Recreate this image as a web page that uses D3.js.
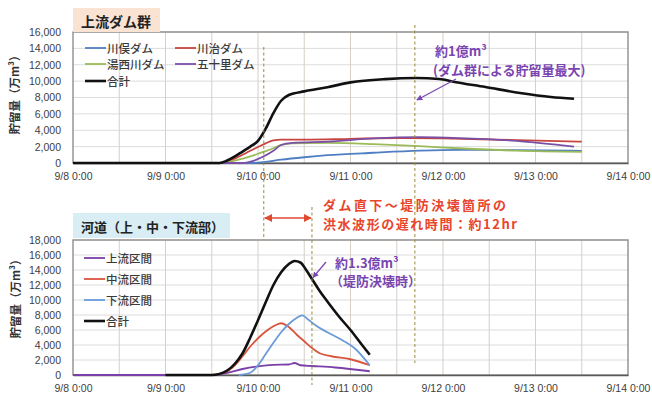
<!DOCTYPE html>
<html lang="ja">
<head>
<meta charset="utf-8">
<script src="https://cdn.jsdelivr.net/npm/d3@7"></script>
<style>
  html, body { margin: 0; padding: 0; background: #fff; }
  svg { display: block; font-family: "Noto Sans CJK JP", "Noto Sans", sans-serif; }
</style>
</head>
<body>
<svg id="chart" width="652" height="398"></svg>
<script>
// ---- time axis (hours since 9/8 0:00) ----
const dayTicks = [0, 24, 48, 72, 96, 120, 144];
const dayLabels = ["9/8 0:00", "9/9 0:00", "9/10 0:00", "9/11 0:00", "9/12 0:00", "9/13 0:00", "9/14 0:00"];

// ---- upstream dam group storage (万m³) ----
const damTicks = [0, 2000, 4000, 6000, 8000, 10000, 12000, 14000, 16000];

const kawamataT = [0, 46, 50, 54, 60, 66, 78, 90, 100, 115, 132];
const kawamataV = [0, 0, 150, 400, 700, 950, 1250, 1500, 1600, 1580, 1480];

const kawajiT = [0, 38, 41, 44, 46, 48, 50, 52, 54, 60, 72, 84, 96, 110, 132];
const kawajiV = [0, 0, 350, 1000, 1500, 1950, 2400, 2750, 2850, 2850, 2950, 3050, 3000, 2850, 2600];

const yunishigawaT = [0, 39, 42, 46, 49, 52, 54, 57, 66, 78, 90, 100, 115, 132];
const yunishigawaV = [0, 0, 300, 800, 1300, 1800, 2200, 2400, 2450, 2300, 2050, 1800, 1500, 1350];

const ikariT = [0, 44, 47, 49, 52, 54, 57, 66, 78, 90, 100, 115, 130];
const ikariV = [0, 0, 300, 700, 1500, 2200, 2450, 2600, 3000, 3150, 3050, 2700, 2000];

const damTotalT = [0, 38, 40, 42, 44, 46, 48, 50, 52, 54, 56, 60, 66, 72, 81, 89, 95, 99, 107, 116, 124, 130];
const damTotalV = [0, 0, 300, 800, 1400, 2000, 2700, 4200, 6100, 7600, 8300, 8750, 9250, 9850, 10250, 10380, 10250, 9900, 9280, 8550, 8060, 7850];

// ---- river channel storage (万m³) ----
const riverTicks = [0, 2000, 4000, 6000, 8000, 10000, 12000, 14000, 16000, 18000];

const upperT = [0, 36, 40, 44, 48, 52, 56, 57.5, 59, 62, 68, 77];
const upperV = [0, 0, 300, 800, 1150, 1350, 1400, 1600, 1300, 1200, 1000, 500];

const middleT = [36, 40, 42, 44, 46, 48, 50, 52, 54, 56, 58, 60, 62, 64, 67, 72, 77];
const middleV = [0, 500, 1300, 2500, 3800, 4900, 5800, 6500, 6900, 6400, 5400, 4500, 3600, 2900, 2500, 2100, 1300];

const lowerT = [43, 46, 48, 50, 52, 54, 56, 58, 59.5, 61, 63, 66, 70, 73, 77];
const lowerV = [0, 300, 1300, 2800, 4300, 5700, 6800, 7600, 7950, 7400, 6600, 5700, 4600, 3600, 1300];

const riverTotalT = [24, 36, 38, 40, 42, 44, 46, 48, 50, 52, 54, 56, 57.5, 59, 60.5, 62, 64, 66, 69, 72, 75, 77];
const riverTotalV = [0, 0, 150, 600, 1500, 2900, 5000, 7300, 9700, 12000, 13700, 14800, 15200, 15000, 14000, 12800, 11200, 9800, 7800, 6000, 4000, 2700];

// ---- event times (hours) ----
const damOutflowHour = 49.5;   // flood wave leaves the dams
const leveeBreakHour = 62;     // levee breach
const damPeakHour = 88.7;      // maximum dam storage

const svg = d3.select("#chart");
const left = 73, right = 628;
const x = d3.scaleLinear().domain([0, 144]).range([left, right]);

const tickColor = "#404040";
const gridColor = "#dcdcdc";
const frameColor = "#8a8580";

function pairs(t, v) { return t.map((h, i) => [h, v[i]]); }

function panel(cfg) {
  const y = d3.scaleLinear().domain([0, cfg.max]).range([cfg.bottom, cfg.top]);
  const g = svg.append("g");

  // horizontal grid
  g.append("g").selectAll("line").data(cfg.ticks.slice(1)).join("line")
    .attr("x1", left).attr("x2", right)
    .attr("y1", d => y(d)).attr("y2", d => y(d))
    .attr("stroke", gridColor).attr("stroke-width", 1);

  // vertical grid every 12 h
  g.append("g").selectAll("line").data(d3.range(12, 144, 12)).join("line")
    .attr("x1", d => x(d)).attr("x2", d => x(d))
    .attr("y1", cfg.top).attr("y2", cfg.bottom)
    .attr("stroke", "#d6cfc8").attr("stroke-width", 1);

  // frame
  g.append("rect").attr("x", left).attr("y", cfg.top)
    .attr("width", right - left).attr("height", cfg.bottom - cfg.top)
    .attr("fill", "none").attr("stroke", frameColor).attr("stroke-width", 1.3);

  // y axis
  const ya = d3.axisLeft(y).tickValues(cfg.ticks).tickFormat(d3.format(",")).tickSize(0).tickPadding(12);
  g.append("g").attr("transform", `translate(${left},0)`).call(ya)
    .call(s => s.select(".domain").remove())
    .selectAll("text").attr("fill", tickColor).attr("font-size", "10.5px")
    .attr("font-family", "'Liberation Sans', Arial, sans-serif");

  // x axis
  const xa = d3.axisBottom(x).tickValues(dayTicks).tickFormat((d, i) => dayLabels[i]).tickSize(0).tickPadding(10);
  g.append("g").attr("transform", `translate(0,${cfg.bottom})`).call(xa)
    .call(s => s.select(".domain").attr("stroke", "#5a5a5a").attr("stroke-width", 1.5))
    .selectAll("text").attr("fill", tickColor).attr("font-size", "10.5px")
    .attr("font-family", "'Liberation Sans', Arial, sans-serif");

  // y axis title
  g.append("text")
    .attr("transform", `translate(${cfg.titleX},${cfg.titleY}) rotate(-90)`)
    .attr("text-anchor", "middle").attr("dominant-baseline", "central")
    .attr("font-size", "11.5px").attr("font-weight", "bold").attr("fill", "#333")
    .text("貯留量（万m³）");

  // panel heading
  g.append("rect").attr("x", cfg.headX).attr("y", cfg.headY)
    .attr("width", cfg.headW).attr("height", cfg.headH).attr("fill", cfg.headFill);
  g.append("text").attr("x", cfg.headX + 8).attr("y", cfg.headY + cfg.headH / 2 + 1)
    .attr("dominant-baseline", "central").attr("font-size", cfg.headSize)
    .attr("font-weight", "bold").attr("fill", "#222").text(cfg.head);

  const line = d3.line().x(d => x(d[0])).y(d => y(d[1])).curve(d3.curveMonotoneX);
  g.append("g").selectAll("path").data(cfg.series).join("path")
    .attr("d", d => line(pairs(d.t, d.v)))
    .attr("fill", "none").attr("stroke", d => d.color)
    .attr("stroke-width", d => d.width).attr("stroke-linejoin", "round");

  // legend
  const lg = g.append("g").selectAll("g").data(cfg.series.map((s, i) => ({ s, p: cfg.legendPos[i] }))).join("g")
    .attr("transform", d => `translate(${d.p[0]},${d.p[1]})`);
  lg.append("line").attr("x1", 0).attr("x2", 21).attr("y1", 0).attr("y2", 0)
    .attr("stroke", d => d.s.color).attr("stroke-width", d => d.s.width);
  lg.append("text").attr("x", 22).attr("y", 0).attr("dominant-baseline", "central")
    .attr("font-size", "11.5px").attr("fill", "#3a3a3a").attr("font-weight", 500).text(d => d.s.name);

  return y;
}

const yTop = panel({
  top: 32, bottom: 163, max: 16000, ticks: damTicks,
  titleX: 14, titleY: 92,
  head: "上流ダム群", headX: 73, headY: 8, headW: 87, headH: 24, headFill: "#fbe3d3", headSize: "14px",
  series: [
    { name: "川俣ダム", t: kawamataT, v: kawamataV, color: "#4f7fc2", width: 1.8 },
    { name: "川治ダム", t: kawajiT, v: kawajiV, color: "#c8443e", width: 1.8 },
    { name: "湯西川ダム", t: yunishigawaT, v: yunishigawaV, color: "#9bbb59", width: 1.8 },
    { name: "五十里ダム", t: ikariT, v: ikariV, color: "#7a4fa6", width: 1.8 },
    { name: "合計", t: damTotalT, v: damTotalV, color: "#111", width: 2.6 }
  ],
  legendPos: [[85, 48], [175, 48], [85, 64], [175, 64], [85, 81]]
});

const yBot = panel({
  top: 240, bottom: 375, max: 18000, ticks: riverTicks,
  titleX: 15, titleY: 296,
  head: "河道（上・中・下流部）", headX: 73, headY: 213, headW: 157, headH: 25, headFill: "#d9edf4", headSize: "13px",
  series: [
    { name: "上流区間", t: upperT, v: upperV, color: "#7a3fa8", width: 1.8 },
    { name: "中流区間", t: middleT, v: middleV, color: "#d9553e", width: 1.8 },
    { name: "下流区間", t: lowerT, v: lowerV, color: "#6a9bd8", width: 1.8 },
    { name: "合計", t: riverTotalT, v: riverTotalV, color: "#111", width: 2.6 }
  ],
  legendPos: [[84, 258], [84, 279], [84, 300], [84, 321]]
});

// ---- event markers ----
const dash = "#9a8a3a";
const marks = svg.append("g").attr("stroke", dash).attr("stroke-width", 1).attr("stroke-dasharray", "3,2.5");
marks.append("line").attr("x1", x(damOutflowHour)).attr("x2", x(damOutflowHour)).attr("y1", 47).attr("y2", 240);
marks.append("line").attr("x1", x(leveeBreakHour)).attr("x2", x(leveeBreakHour)).attr("y1", 207).attr("y2", 385);
marks.append("line").attr("x1", x(damPeakHour)).attr("x2", x(damPeakHour)).attr("y1", 25).attr("y2", 363);

// arrowheads
const defs = svg.append("defs");
function head(id, color) {
  defs.append("marker").attr("id", id).attr("viewBox", "0 0 10 10").attr("refX", 9).attr("refY", 5)
    .attr("markerWidth", 5).attr("markerHeight", 5).attr("orient", "auto-start-reverse")
    .append("path").attr("d", "M0,0 L10,5 L0,10 z").attr("fill", color);
}
head("redHead", "#e04a30");
head("purpleHead", "#7a45b0");

// lag between dams and levee breach
svg.append("line").attr("x1", x(damOutflowHour) + 1).attr("x2", x(leveeBreakHour) - 1)
  .attr("y1", 218).attr("y2", 218).attr("stroke", "#e04a30").attr("stroke-width", 1.6)
  .attr("marker-start", "url(#redHead)").attr("marker-end", "url(#redHead)");

const red = svg.append("g").attr("fill", "#e8452c").attr("font-size", "13px").attr("font-weight", "bold");
red.append("text").attr("x", 323).attr("y", 204).attr("dominant-baseline", "central")
  .attr("textLength", 183).attr("lengthAdjust", "spacing").text("ダム直下～堤防決壊箇所の");
red.append("text").attr("x", 323).attr("y", 223).attr("dominant-baseline", "central")
  .attr("textLength", 194).attr("lengthAdjust", "spacing").text("洪水波形の遅れ時間：約12hr");

// dam maximum note
const purple = "#7a45b0";
const noteTop = svg.append("g").attr("fill", purple).attr("font-size", "13px").attr("font-weight", "bold");
noteTop.append("text").attr("x", 435).attr("y", 50).attr("dominant-baseline", "central").text("約1億m³");
noteTop.append("text").attr("x", 433).attr("y", 69).attr("dominant-baseline", "central").text("(ダム群による貯留量最大)");
svg.append("line").attr("x1", 456).attr("y1", 79).attr("x2", x(damPeakHour) + 2).attr("y2", yTop(7700))
  .attr("stroke", purple).attr("stroke-width", 1.2).attr("marker-end", "url(#purpleHead)");

// river peak note
const noteBot = svg.append("g").attr("fill", purple).attr("font-size", "13px").attr("font-weight", "bold");
noteBot.append("text").attr("x", 335).attr("y", 262).attr("dominant-baseline", "central").text("約1.3億m³");
noteBot.append("text").attr("x", 330).attr("y", 280).attr("dominant-baseline", "central").text("（堤防決壊時）");
svg.append("line").attr("x1", 326).attr("y1", 262).attr("x2", x(leveeBreakHour) + 1).attr("y2", yBot(13000))
  .attr("stroke", purple).attr("stroke-width", 1.2).attr("marker-end", "url(#purpleHead)");
</script>
</body>
</html>
